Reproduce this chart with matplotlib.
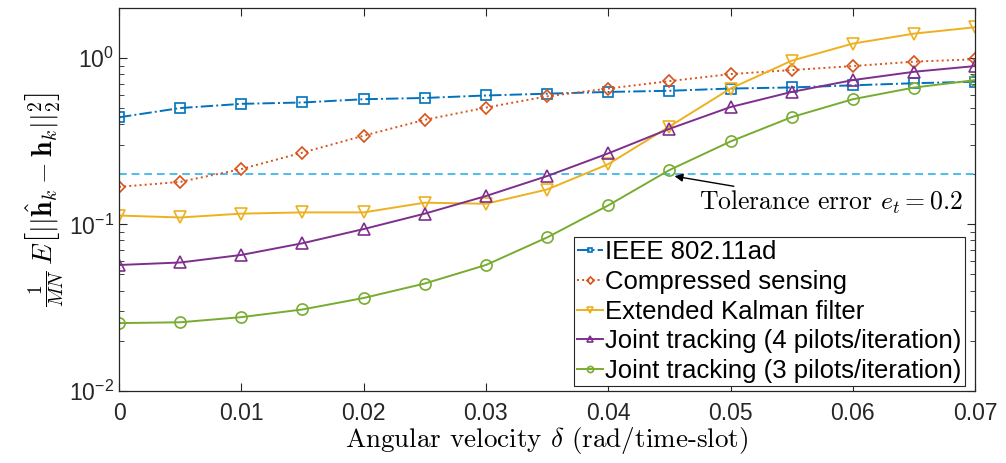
"""Tracking error vs angular velocity (log scale)"""
import matplotlib
matplotlib.use('Agg')
import matplotlib.pyplot as plt
import numpy as np

plt.rcParams['font.family'] = ['Liberation Sans Narrow', 'Liberation Sans', 'DejaVu Sans']
plt.rcParams['mathtext.fontset'] = 'cm'

delta = [0, 0.005, 0.01, 0.015, 0.02, 0.025, 0.03, 0.035,
         0.04, 0.045, 0.05, 0.055, 0.06, 0.065, 0.07]

ieee = [0.44, 0.50, 0.53, 0.54, 0.565, 0.575, 0.595, 0.61,
        0.625, 0.635, 0.655, 0.665, 0.685, 0.705, 0.72]
cs = [0.168, 0.180, 0.215, 0.270, 0.341, 0.425, 0.503, 0.588,
      0.655, 0.726, 0.800, 0.846, 0.894, 0.950, 0.982]
ekf = [0.113, 0.110, 0.116, 0.118, 0.118, 0.135, 0.133, 0.162,
       0.230, 0.387, 0.655, 0.963, 1.22, 1.40, 1.53]
jt4 = [0.057, 0.059, 0.0655, 0.077, 0.0937, 0.116, 0.148, 0.195,
       0.267, 0.375, 0.507, 0.625, 0.736, 0.826, 0.894]
jt3 = [0.0255, 0.0258, 0.0277, 0.0308, 0.0361, 0.0441, 0.057, 0.0834,
       0.130, 0.212, 0.315, 0.441, 0.565, 0.664, 0.736]

tolerance = 0.2

labels = ['IEEE 802.11ad', 'Compressed sensing', 'Extended Kalman filter',
          'Joint tracking (4 pilots/iteration)', 'Joint tracking (3 pilots/iteration)']
colors = ['#0072BD', '#D95319', '#EDB120', '#7E2F8E', '#77AC30']
styles = ['-.', ':', '-', '-', '-']
markers = ['s', 'D', 'v', '^', 'o']
msizes = [6.5, 6.5, 8.5, 8.5, 8]

fig = plt.figure(figsize=(10.06, 4.63), dpi=100)
ax = fig.add_axes([0.1183, 0.156, 0.851, 0.827])

ax.axhline(tolerance, color='#4DBEEE', linestyle='--', linewidth=1.4, dashes=(4, 2.5))

for y, lab, c, ls, m, ms in zip([ieee, cs, ekf, jt4, jt3], labels, colors, styles, markers, msizes):
    ax.plot(delta, y, linestyle=ls, color=c, marker=m, markersize=ms,
            markerfacecolor='none', markeredgewidth=1.2, linewidth=1.4, label=lab)

ax.set_yscale('log')
ax.set_xlim(0, 0.07)
ax.set_ylim(0.01, 2.0)
ax.set_xticks(np.arange(0, 0.071, 0.01))
ax.set_xticklabels(['0', '0.01', '0.02', '0.03', '0.04', '0.05', '0.06', '0.07'])

ax.tick_params(which='both', direction='in', top=True, right=True, colors='#262626',
               labelsize=16.5, labelcolor='#262626')
ax.tick_params(axis='x', pad=8)
ax.tick_params(which='major', length=6)
ax.tick_params(which='minor', length=3.5)
for sp in ax.spines.values():
    sp.set_color('#262626')
    sp.set_linewidth(0.9)

ax.set_xlabel(r'Angular velocity $\delta$ (rad/time-slot)', family='cmr10', fontsize=19.5,
              labelpad=0)
ax.set_ylabel(r'$\frac{1}{MN}\,E\left[||\hat{\mathbf{h}}_k-\mathbf{h}_k||_2^2\right]$',
              fontsize=20, labelpad=2)

ax.annotate(r'Tolerance error $e_t=0.2$', xy=(0.0452, 0.196), xytext=(0.0474, 0.163),
            family='cmr10', fontsize=18.5, ha='left', va='top',
            arrowprops=dict(arrowstyle='-|>', color='black', lw=1.0, shrinkA=0, shrinkB=2,
                            mutation_scale=12))

leg = ax.legend(loc='lower right', bbox_to_anchor=(0.988, 0.012), borderaxespad=0,
                prop={'family': 'Liberation Sans', 'size': 18.5},
                handlelength=1.0, handletextpad=0.1, labelspacing=0.22,
                borderpad=0.12, fancybox=False, framealpha=1, edgecolor='#262626',
                markerscale=0.55)
leg.get_frame().set_linewidth(0.8)

plt.savefig('out.png', dpi=100)
